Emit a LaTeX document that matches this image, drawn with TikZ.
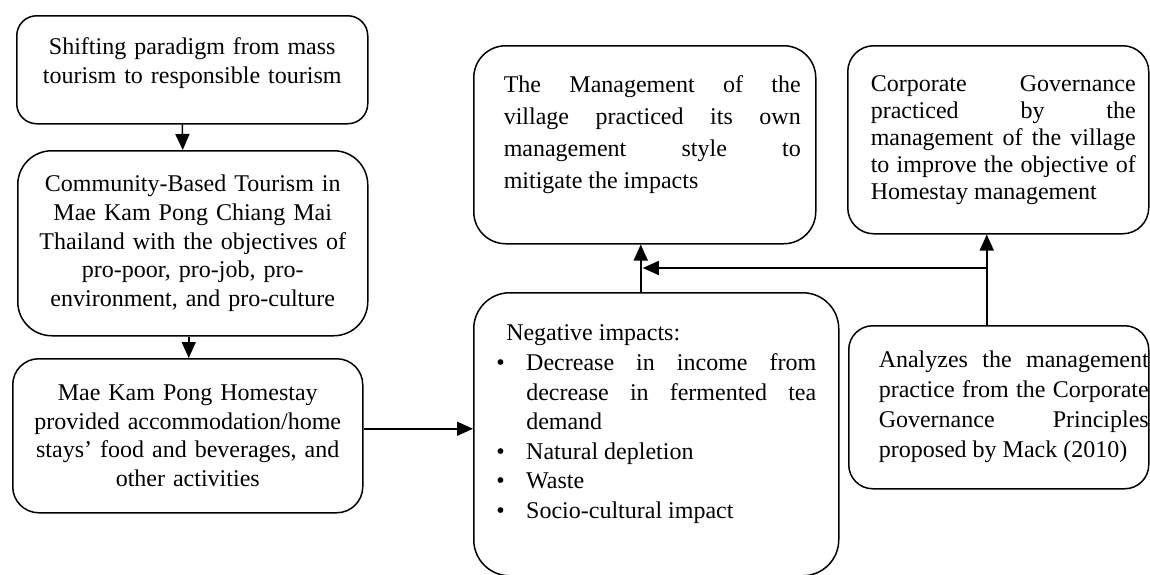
\documentclass[tikz,border=0pt]{standalone}
\usepackage{fontspec}
\setmainfont{Liberation Serif}
\usetikzlibrary{arrows.meta}

\begin{document}
\begin{tikzpicture}[x=0.5pt,y=-0.5pt,>={Triangle[length=8pt,width=7pt]},
                    line width=0.75pt,font=\fontsize{12}{14.3}\selectfont]
  \tikzstyle{block}=[draw=black,
                     rounded corners=13pt,
                     anchor=north west,
                     inner sep=0pt,
                     align=center]
  \tikzstyle{jblock}=[block,
                      align=justify]
  \clip (0,0) rectangle (1150,574);
  %Nodos izquierda
  \node[block,rounded corners=10pt,minimum width=175.5pt,minimum height=54pt,text width=160pt]
       (shift) at (16,15) {Shifting paradigm from mass\\tourism to responsible tourism\rule[-9pt]{0pt}{0pt}};
  \node[block,rounded corners=17pt,minimum width=175pt,minimum height=92.5pt,text width=165pt]
       (cbt) at (17,150) {Community-Based Tourism in\\Mae Kam Pong Chiang Mai\\Thailand with the objectives of\\pro-poor, pro-job, pro-\\environment, and pro-culture};
  \node[block,minimum width=175pt,minimum height=77pt,text width=165pt]
       (home) at (12,358) {Mae Kam Pong Homestay\\provided accommodation/home\\stays’ food and beverages, and\\other activities};
  %Nodos centro
  \node[jblock,rounded corners=16pt,minimum width=171pt,minimum height=99pt,text width=156pt,
        font=\fontsize{12}{16}\selectfont]
       (mgmt) at (473,45) {\leftskip=7.5pt The Management of the\linebreak village practiced its own\linebreak management style to\linebreak mitigate the impacts\rule[-12.5pt]{0pt}{0pt}\par};
  \node[jblock,rounded corners=18pt,minimum width=182.5pt,minimum height=141.5pt,text width=160pt,
        font=\fontsize{12}{14.8}\selectfont]
       (neg) at (473,292) {\hspace*{5pt}Negative impacts:\par
         \hangindent=15pt\makebox[15pt][l]{\textbullet}Decrease in income from\linebreak decrease in fermented tea\linebreak demand\par
         \hangindent=15pt\makebox[15pt][l]{\textbullet}Natural depletion\par
         \hangindent=15pt\makebox[15pt][l]{\textbullet}Waste\par
         \hangindent=15pt\makebox[15pt][l]{\textbullet}Socio-cultural impact\rule[-12.5pt]{0pt}{0pt}\par};
  %Nodos derecha
  \node[jblock,minimum width=150.5pt,minimum height=94pt,text width=137.5pt,
        font=\fontsize{12}{13.5}\selectfont]
       (gov) at (847,45) {\leftskip=5pt Corporate Governance\linebreak practiced by the\linebreak management of the village\linebreak to improve the objective of\linebreak Homestay management\par};
  \node[jblock,rounded corners=12pt,minimum width=150pt,minimum height=81.5pt,text width=150pt,
        font=\fontsize{12}{15}\selectfont]
       (anl) at (848,325) {\leftskip=15pt Analyzes the management\linebreak practice from the Corporate\linebreak Governance Principles\linebreak proposed by Mack (2010)\par};
  %Flechas
  \coordinate (h3) at ([yshift=3.5pt]home.east);
  \coordinate (m1) at ([xshift=-2pt]mgmt.south);
  \coordinate (g1) at ([xshift=-5.75pt]gov.south);
  \coordinate (hy) at (0,268);
  \path (m1 |- hy) ++(1pt,0) coordinate (jl);
  \draw[->] ([xshift=-5pt]shift.south) -- ([xshift=-5pt]cbt.north);
  \draw[->] ([xshift=-2pt]cbt.south) -- ([xshift=-2pt]cbt.south |- home.north);
  \draw[->] (h3) -- (h3 -| neg.west);
  \draw[->] (m1 |- neg.north) -- (m1);
  \draw[->] (g1 |- anl.north) -- (g1);
  \draw[->] (g1 |- hy) -- (jl);
\end{tikzpicture}
\end{document}
